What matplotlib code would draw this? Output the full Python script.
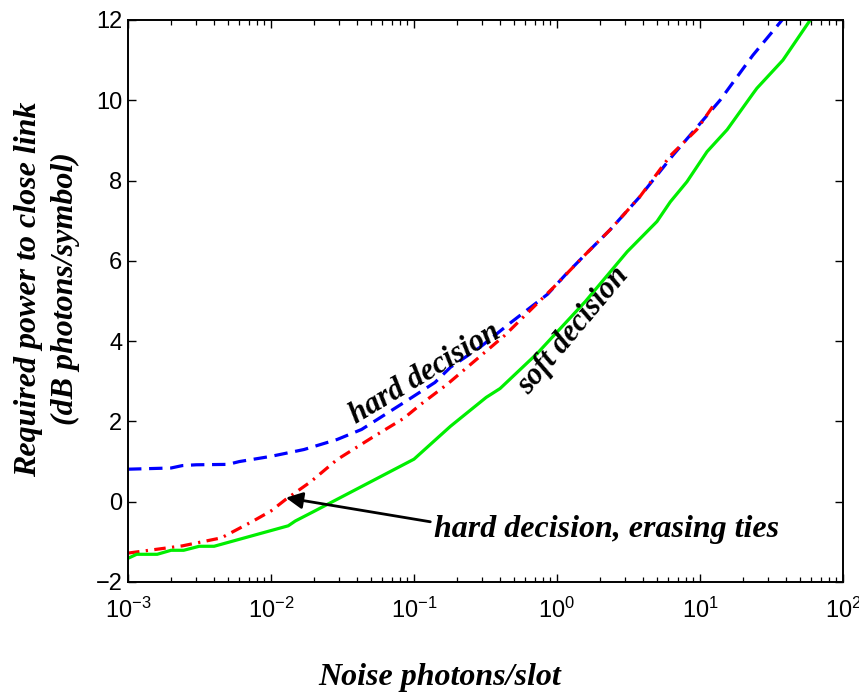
import numpy as np
import matplotlib
matplotlib.use("Agg")
import matplotlib.pyplot as plt

# ---- DATA ----
# hard decision (blue dashed)
hard_x = [1e-3, 2e-3, 2.4e-3, 3e-3, 5e-3, 6e-3, 1e-2, 1.7e-2, 2.9e-2, 4.3e-2,
          8.5e-2, 0.14, 0.18, 0.29, 0.47, 0.86, 1.15, 1.58, 2.36, 3.8, 6.5,
          13.8, 23.4, 37.5]
hard_y = [0.81, 0.84, 0.9, 0.92, 0.93, 1.0, 1.13, 1.3, 1.55, 1.8,
          2.47, 2.97, 3.35, 3.85, 4.45, 5.17, 5.66, 6.16, 6.78, 7.6, 8.64,
          10.0, 11.12, 12.0]

# hard decision, erasing ties (red dash-dot)
erase_x = [1e-3, 2.4e-3, 4.5e-3, 7.6e-3, 1e-2, 1.27e-2, 1.9e-2, 2.9e-2, 5e-2,
           8.5e-2, 0.112, 0.17, 0.43, 0.94, 1.58, 2.36, 3.8, 6.2, 9.5, 12.3]
erase_y = [-1.28, -1.1, -0.9, -0.47, -0.23, 0.06, 0.5, 1.05, 1.58,
           2.08, 2.43, 2.92, 4.14, 5.33, 6.16, 6.78, 7.6, 8.62, 9.27, 9.85]

# soft decision (green solid)
soft_x = [1e-3, 1.15e-3, 1.6e-3, 2e-3, 2.45e-3, 3.15e-3, 4e-3, 1.32e-2, 1.48e-2,
          2e-2, 0.1, 0.18, 0.32, 0.4, 0.73, 1.58, 3.1, 5.0, 6.2, 8.1, 11.2,
          15.5, 23.4, 25, 38, 59]
soft_y = [-1.41, -1.31, -1.31, -1.21, -1.21, -1.11, -1.11, -0.6, -0.48,
          -0.24, 1.06, 1.88, 2.6, 2.82, 3.7, 4.99, 6.23, 6.98, 7.47, 7.97, 8.72,
          9.27, 10.16, 10.3, 11.0, 12.0]

xtick_vals = [1e-3, 1e-2, 1e-1, 1e0, 1e1, 1e2]
xtick_labels = [r"$\mathregular{10^{-3}}$", r"$\mathregular{10^{-2}}$",
                r"$\mathregular{10^{-1}}$", r"$\mathregular{10^{0}}$",
                r"$\mathregular{10^{1}}$", r"$\mathregular{10^{2}}$"]
ytick_vals = [-2, 0, 2, 4, 6, 8, 10, 12]
ytick_labels = ["\u22122", "0", "2", "4", "6", "8", "10", "12"]

# ---- STYLE ----
plt.rcParams["font.family"] = ["Liberation Sans", "DejaVu Sans"]
plt.rcParams["mathtext.fontset"] = "custom"
plt.rcParams["mathtext.rm"] = "Liberation Sans"

serif_bi = dict(family=["Liberation Serif", "DejaVu Serif"], weight="bold", style="italic")

fig = plt.figure(figsize=(8.59, 6.92), dpi=100)
# axes box: x 128..843 px, y 20..582 px
ax = fig.add_axes([128 / 859, 1 - 582 / 692, 715 / 859, 562 / 692])

lw = 2.3
ax.plot(hard_x, hard_y, color="#0000ff", lw=lw, dashes=(4.2, 2.4))
ax.plot(erase_x, erase_y, color="#ff0000", lw=lw, dashes=(3.6, 2.0, 0.7, 2.0))
ax.plot(soft_x, soft_y, color="#00ee00", lw=lw)

ax.set_xscale("log")
ax.set_xlim(1e-3, 1e2)
ax.set_ylim(-2, 12)
ax.set_xticks(xtick_vals)
ax.set_xticklabels(xtick_labels)
ax.set_yticks(ytick_vals)
ax.set_yticklabels(ytick_labels)

ax.tick_params(axis="both", which="major", direction="in", length=6, width=1.0,
               labelsize=17, top=True, right=True)
ax.tick_params(axis="x", which="major", pad=11)
ax.tick_params(axis="y", which="major", pad=4)
ax.tick_params(axis="x", which="minor", direction="in", length=3.5, width=0.9,
               top=True, bottom=True)
for s in ax.spines.values():
    s.set_linewidth(1.4)

# axis titles placed like the original
fig.text(47 / 859, 1 - 289 / 692, "Required power to close link\n(dB photons/symbol)",
         fontsize=23, rotation=90, ha="center", va="center", linespacing=1.35,
         **serif_bi)
fig.text(440 / 859, 1 - 678 / 692, "Noise photons/slot", fontsize=23,
         ha="center", va="center", **serif_bi)

ax.text(0.12, 3.2, "hard decision", fontsize=22, rotation=31,
        ha="center", va="center", rotation_mode="anchor", **serif_bi)
ax.text(1.3, 4.25, "soft decision", fontsize=22, rotation=50,
        ha="center", va="center", rotation_mode="anchor", **serif_bi)
ax.text(0.137, -0.68, "hard decision, erasing ties", fontsize=23,
        ha="left", va="center", **serif_bi)
ax.annotate("", xy=(0.0127, 0.1), xytext=(0.13, -0.5),
            arrowprops=dict(arrowstyle="-|>", color="black", lw=2.0,
                            mutation_scale=25, shrinkA=0, shrinkB=0))

fig.savefig("out.png", dpi=100)
